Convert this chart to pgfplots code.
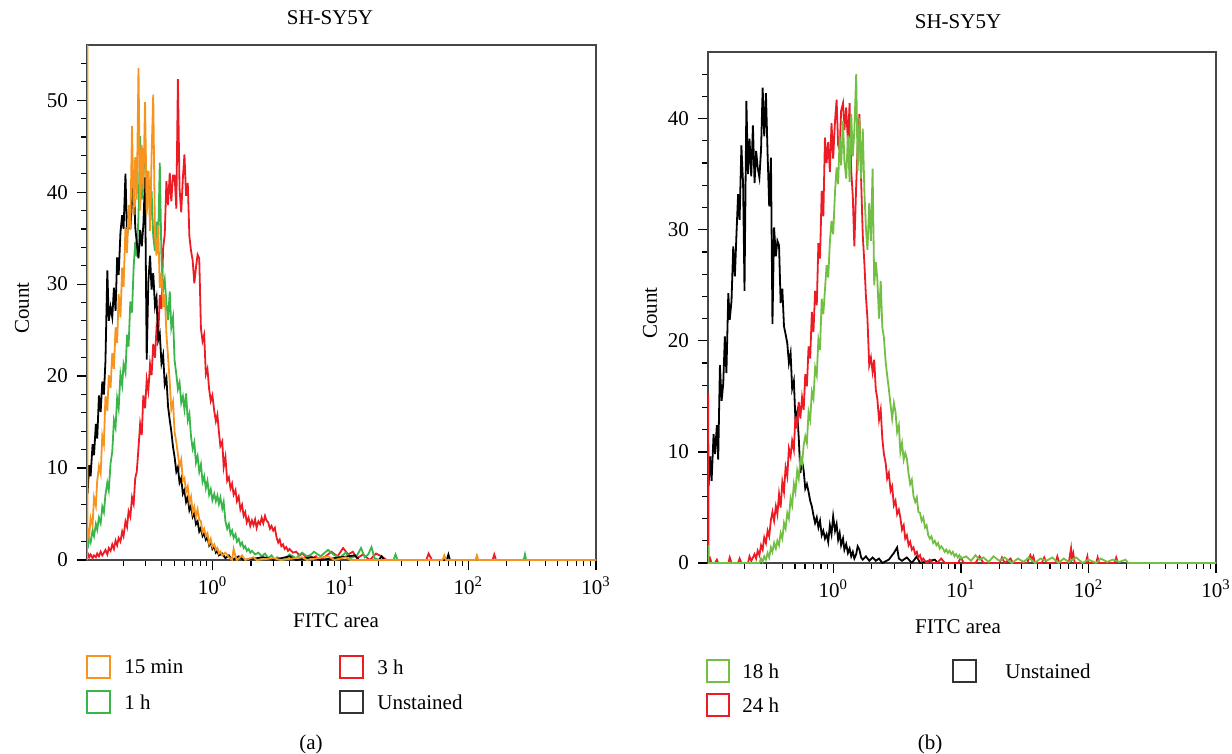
\documentclass[border=0pt]{standalone}
\usepackage{fontspec}
\setmainfont{Liberation Serif}
\usepackage{pgfplots}
\pgfplotsset{compat=1.18}

\definecolor{cOrange}{RGB}{247,148,30}
\definecolor{cGreen}{RGB}{57,181,74}
\definecolor{cGreenB}{RGB}{114,191,68}
\definecolor{cRed}{RGB}{237,28,36}
\definecolor{cFrame}{RGB}{70,70,70}

\begin{document}
\begin{tikzpicture}[font=\fontsize{10.5}{12}\selectfont]
\useasboundingbox (0,0) rectangle (616pt,-377pt);

% ---------------- panel (a) ----------------
\begin{axis}[
  at={(43.5pt,-280pt)}, anchor=south west,
  scale only axis, width=254.5pt, height=257.5pt,
  xmode=log, xmin=0.104, xmax=1000,
  ymin=0, ymax=56,
  xtick={1,10,100,1000},
  xticklabels={10\textsuperscript{0},10\textsuperscript{1},10\textsuperscript{2},10\textsuperscript{3}},
  minor xtick={0.2,0.3,0.4,0.5,0.6,0.7,0.8,0.9,2,3,4,5,6,7,8,9,20,30,40,50,60,70,80,90,200,300,400,500,600,700,800,900},
  ytick={0,10,20,30,40,50},
  minor ytick={2,4,6,8,12,14,16,18,22,24,26,28,32,34,36,38,42,44,46,48,52,54},
  tick align=outside, tick pos=left,
  major tick length=5pt, minor tick length=3pt,
  axis line style={cFrame, line width=0.6pt},
  tick style={black, line width=0.6pt},
  /pgf/number format/assume math mode=true,
  yticklabel style={xshift=-1pt},
  every axis plot/.append style={line width=0.9pt},
]

% 3 h
\addplot[cRed] table {
x y
0.105 0.8
0.108 0.3
0.111 0.6
0.115 0.2
0.118 0.5
0.122 0.3
0.125 0.7
0.129 0.4
0.133 0.9
0.137 0.5
0.141 0.8
0.145 1.1
0.150 0.6
0.154 1.3
0.159 1.0
0.164 1.7
0.169 1.2
0.174 2.1
0.179 1.6
0.184 2.4
0.190 2.0
0.196 3.1
0.201 2.6
0.208 4.2
0.214 3.6
0.220 5.3
0.227 4.7
0.234 6.8
0.241 6.1
0.248 8.9
0.255 9.6
0.263 12.2
0.271 14.8
0.279 13.6
0.287 17.9
0.296 16.5
0.305 19.6
0.314 18.4
0.324 21.3
0.333 20.1
0.343 23.5
0.354 22.0
0.364 25.2
0.375 24.1
0.386 28.8
0.398 27.3
0.410 33.9
0.422 35.4
0.435 41.2
0.448 38.6
0.462 42.1
0.475 39.0
0.490 41.8
0.504 41.8
0.520 38.2
0.535 52.3
0.551 40.4
0.568 37.8
0.585 41.5
0.602 44.1
0.620 39.6
0.639 41.0
0.658 35.2
0.678 33.6
0.698 32.6
0.719 30.1
0.741 31.8
0.763 33.2
0.786 32.8
0.810 25.2
0.834 23.8
0.859 24.5
0.885 20.2
0.911 20.8
0.939 18.6
0.967 17.3
0.996 17.9
1.03 16.2
1.06 15.1
1.09 15.8
1.12 13.9
1.15 12.4
1.19 12.9
1.22 10.1
1.26 11.2
1.30 8.6
1.34 9.0
1.38 7.8
1.42 8.3
1.46 7.1
1.51 7.6
1.55 6.4
1.60 6.9
1.65 5.5
1.70 6.0
1.75 4.8
1.80 5.2
1.85 4.1
1.91 4.6
1.97 3.7
2.03 4.3
2.09 3.8
2.15 4.4
2.21 3.5
2.28 4.2
2.35 3.9
2.42 4.6
2.49 4.0
2.57 4.8
2.64 4.3
2.72 4.1
2.81 3.4
2.89 3.7
2.98 3.2
3.07 3.5
3.16 2.5
3.26 1.9
3.35 2.2
3.45 1.5
3.56 1.7
3.66 1.2
3.77 1.4
3.89 1.0
4.00 1.2
4.25 0.8
4.51 0.9
4.78 0.5
5.07 0.7
5.38 0.3
5.71 0.5
6.06 0.2
6.43 0.4
6.82 0
7.5 0.3
8.5 0.9
9.5 0.4
10.5 1.3
11.5 0.6
12.5 0.9
13.5 0.2
15 0.6
17 0
19 0.7
21 0.4
23 0
47 0
49 0.7
52 0
155 0
160 0.6
165 0
};

% 1 h
\addplot[cGreen] table {
x y
0.105 1.2
0.108 2.4
0.111 1.9
0.115 3.2
0.118 2.6
0.122 3.9
0.125 3.3
0.129 4.6
0.133 4.0
0.137 5.8
0.141 5.2
0.145 7.1
0.150 8.4
0.154 7.6
0.159 10.5
0.164 11.8
0.169 15.2
0.174 14.4
0.179 17.6
0.184 16.5
0.190 20.2
0.196 19.0
0.201 21.3
0.208 20.4
0.214 24.5
0.220 23.2
0.227 28.1
0.234 26.9
0.241 31.8
0.248 34.6
0.255 33.0
0.263 37.4
0.271 46.1
0.279 39.2
0.287 41.5
0.296 45.0
0.305 40.8
0.314 42.3
0.324 36.9
0.333 40.1
0.343 35.2
0.354 33.6
0.364 36.8
0.375 34.5
0.386 43.2
0.398 32.8
0.410 29.4
0.422 30.5
0.435 27.9
0.448 26.1
0.462 29.2
0.475 25.3
0.490 26.4
0.504 21.7
0.520 20.2
0.535 18.6
0.551 19.3
0.568 17.1
0.585 17.8
0.602 16.4
0.620 18.1
0.639 15.2
0.658 15.9
0.678 13.4
0.698 12.1
0.719 12.8
0.741 10.6
0.763 11.3
0.786 9.6
0.810 10.4
0.834 8.5
0.859 9.1
0.885 7.8
0.911 8.6
0.939 7.1
0.967 7.7
0.996 6.5
1.03 7.2
1.06 6.4
1.09 7.0
1.12 6.1
1.15 6.8
1.19 5.6
1.22 6.3
1.26 4.2
1.30 3.4
1.34 3.9
1.38 2.8
1.42 3.2
1.46 2.4
1.51 2.8
1.55 2.0
1.60 2.3
1.65 1.6
1.70 1.9
1.75 1.3
1.80 1.5
1.85 1.0
1.91 1.2
1.97 0.8
2.03 1.0
2.15 0.6
2.28 0.8
2.42 0.4
2.57 0.7
2.72 0.2
2.89 0.5
3.07 0
3.2 0.3
3.6 0
4.0 0.6
4.5 0.2
5.0 0.8
5.6 0.3
6.2 0.9
7.0 0.4
8.0 1.1
9.0 0.5
10 0.3
11 0.8
12 0.2
13.5 0.5
14.5 1.3
15.5 0.3
16.5 0.6
17.5 1.4
18.5 0.2
20 0
26 0
27 0.6
28 0
272 0
278 0.6
284 0
};

% Unstained
\addplot[black] table {
x y
0.104 9.5
0.105 7.2
0.108 10.3
0.111 9.1
0.115 12.6
0.118 11.4
0.122 14.8
0.125 13.2
0.129 17.9
0.133 16.1
0.137 19.4
0.141 18.0
0.145 21.6
0.150 31.5
0.154 26.0
0.159 27.5
0.164 26.4
0.169 29.6
0.174 27.1
0.179 32.9
0.184 31.0
0.190 35.6
0.196 37.5
0.201 36.0
0.208 42.0
0.214 35.1
0.220 37.4
0.227 36.0
0.234 38.9
0.241 41.7
0.248 36.2
0.255 34.5
0.263 32.8
0.271 35.9
0.279 34.1
0.287 36.4
0.296 41.6
0.305 21.8
0.314 30.2
0.324 33.1
0.333 29.4
0.343 31.2
0.354 27.6
0.364 28.5
0.375 23.9
0.386 24.6
0.398 21.4
0.410 22.3
0.422 19.1
0.435 19.8
0.448 16.7
0.462 15.2
0.475 14.0
0.490 12.3
0.504 11.2
0.520 9.6
0.535 10.1
0.551 8.4
0.568 8.9
0.585 7.2
0.602 7.6
0.620 6.3
0.639 6.8
0.658 5.4
0.678 5.9
0.698 4.7
0.719 5.1
0.741 3.9
0.763 4.2
0.786 3.1
0.810 3.5
0.834 2.6
0.859 2.9
0.885 2.2
0.911 2.5
0.939 1.6
0.967 2.0
0.996 1.2
1.03 1.5
1.06 0.8
1.09 1.0
1.12 0.5
1.19 0.7
1.26 0.2
1.34 0.5
1.42 0
1.60 0.4
1.75 0
2.5 0.3
3.0 0
4.0 0.4
4.5 0
6.0 0.3
7.0 0
13 0.5
14 0
20 0
21 0.4
22 0
68 0
70 0.6
72 0
};

% 15 min
\addplot[cOrange] table {
x y
0.104 0
0.1045 120
0.105 3.5
0.108 2.5
0.111 4.6
0.115 3.8
0.118 6.8
0.122 5.9
0.125 8.6
0.129 10.2
0.133 9.4
0.137 13.5
0.141 12.6
0.145 17.8
0.150 16.2
0.154 20.1
0.159 18.7
0.164 22.5
0.169 20.8
0.174 25.3
0.179 23.6
0.184 28.9
0.190 26.4
0.196 31.8
0.201 29.7
0.208 36.2
0.214 33.4
0.220 38.6
0.227 35.9
0.234 47.2
0.241 37.5
0.248 43.8
0.255 39.2
0.263 53.5
0.271 38.0
0.279 45.1
0.287 40.3
0.296 49.8
0.305 37.6
0.314 42.3
0.324 35.8
0.333 44.0
0.343 50.6
0.354 35.2
0.364 33.1
0.375 36.4
0.386 29.6
0.398 31.2
0.410 27.5
0.422 28.9
0.435 24.6
0.448 22.1
0.462 19.3
0.475 16.4
0.490 17.2
0.504 13.9
0.520 12.8
0.535 11.5
0.551 10.2
0.568 10.9
0.585 8.6
0.602 8.9
0.620 7.4
0.639 8.0
0.658 6.3
0.678 6.9
0.698 5.2
0.719 5.8
0.741 4.7
0.763 5.5
0.786 4.4
0.810 4.2
0.834 3.0
0.859 3.4
0.885 2.6
0.911 2.9
0.939 1.8
0.967 2.3
0.996 1.4
1.03 1.7
1.06 1.1
1.09 1.3
1.12 0.7
1.15 0.9
1.19 0.5
1.26 0.8
1.34 0.3
1.42 0
1.46 1.2
1.51 0.4
1.55 0
1.70 0.5
1.80 0
2.09 0.3
2.21 0
3.0 0.2
3.4 0
5.0 0.3
5.5 0
8.0 0.4
9.0 0
11 0.3
12 0
63 0
65 0.5
67 0
114 0
117 0.5
120 0
1000 0
};
\end{axis}

% ---------------- panel (b) ----------------
\begin{axis}[
  at={(354pt,-281.5pt)}, anchor=south west,
  scale only axis, width=254pt, height=255.5pt,
  xmode=log, xmin=0.104, xmax=1000,
  ymin=0, ymax=46,
  xtick={1,10,100,1000},
  xticklabels={10\textsuperscript{0},10\textsuperscript{1},10\textsuperscript{2},10\textsuperscript{3}},
  minor xtick={0.2,0.3,0.4,0.5,0.6,0.7,0.8,0.9,2,3,4,5,6,7,8,9,20,30,40,50,60,70,80,90,200,300,400,500,600,700,800,900},
  ytick={0,10,20,30,40},
  minor ytick={2,4,6,8,12,14,16,18,22,24,26,28,32,34,36,38,42,44},
  tick align=outside, tick pos=left,
  major tick length=5pt, minor tick length=3pt,
  axis line style={cFrame, line width=0.6pt},
  tick style={black, line width=0.6pt},
  /pgf/number format/assume math mode=true,
  yticklabel style={xshift=-1pt},
  every axis plot/.append style={line width=0.9pt},
]

% Unstained
\addplot[black] table {
x y
0.104 9.8
0.105 6.9
0.108 9.6
0.111 7.4
0.115 11.6
0.118 9.8
0.122 12.4
0.125 9.3
0.129 17.8
0.133 14.6
0.137 16.2
0.141 20.4
0.145 17.1
0.150 24.3
0.154 21.9
0.159 23.6
0.164 28.5
0.169 25.8
0.174 29.7
0.179 33.2
0.184 30.9
0.190 37.6
0.196 34.1
0.201 24.5
0.208 41.6
0.214 35.0
0.220 38.2
0.227 34.8
0.234 39.4
0.241 34.2
0.248 37.1
0.255 35.6
0.263 34.7
0.271 37.2
0.279 42.8
0.287 38.4
0.296 42.3
0.305 36.8
0.314 32.1
0.324 36.5
0.333 21.5
0.343 30.2
0.354 27.6
0.364 29.0
0.375 28.6
0.386 23.4
0.398 24.7
0.410 21.3
0.422 20.6
0.435 19.8
0.448 18.0
0.462 18.9
0.475 15.7
0.490 16.4
0.504 12.9
0.520 13.6
0.535 11.3
0.551 8.1
0.568 9.2
0.585 8.3
0.602 6.7
0.620 7.1
0.639 6.4
0.658 5.6
0.678 5.1
0.698 4.3
0.719 3.6
0.741 4.1
0.763 3.2
0.786 3.8
0.810 2.5
0.834 2.9
0.859 2.2
0.885 2.6
0.911 1.9
0.939 3.4
0.967 2.6
0.996 4.2
1.03 2.9
1.06 3.5
1.09 2.1
1.12 2.7
1.15 1.6
1.19 2.2
1.22 1.2
1.26 1.7
1.30 0.9
1.34 1.3
1.38 0.6
1.42 1.0
1.46 0.4
1.51 0.8
1.55 1.5
1.60 1.2
1.65 0.5
1.70 0.3
1.80 0.6
1.91 0.2
2.03 0.5
2.15 0.2
2.28 0.4
2.42 0
2.72 0.3
2.98 0.9
3.16 1.4
3.26 0.4
3.45 0.2
3.77 0.5
4.12 0
4.51 0.6
4.78 0
6.24 0.3
6.62 0
};

% 24 h
\addplot[cRed] table {
x y
0.104 0
0.1045 15.2
0.105 0
0.108 0.4
0.111 0
0.118 0
0.122 0.3
0.125 0
0.150 0
0.154 0.5
0.159 0
0.179 0
0.184 0.4
0.190 0
0.214 0
0.220 0.6
0.227 0.2
0.234 0.5
0.241 0.8
0.248 0.4
0.255 1.1
0.263 0.7
0.271 1.6
0.279 1.2
0.287 2.3
0.296 1.8
0.305 2.9
0.314 2.4
0.324 3.9
0.333 4.6
0.343 3.8
0.354 5.1
0.364 4.4
0.375 6.2
0.386 5.0
0.398 7.3
0.410 6.4
0.422 8.6
0.435 7.8
0.448 10.3
0.462 9.6
0.475 11.0
0.490 10.2
0.504 13.2
0.520 12.1
0.535 14.5
0.551 13.0
0.568 14.9
0.585 13.8
0.602 17.0
0.620 15.9
0.639 19.5
0.658 18.4
0.678 22.6
0.698 20.8
0.719 24.5
0.741 23.2
0.763 28.8
0.786 27.4
0.810 33.5
0.834 31.2
0.859 38.3
0.885 36.0
0.911 37.9
0.939 35.2
0.967 39.6
0.996 36.4
1.03 39.8
1.06 41.7
1.09 37.6
1.12 37.2
1.15 40.7
1.19 41.4
1.22 39.0
1.26 41.0
1.30 37.8
1.34 41.4
1.38 35.3
1.42 33.0
1.46 28.5
1.51 34.0
1.55 37.5
1.60 40.4
1.65 34.5
1.70 29.5
1.75 27.0
1.80 24.0
1.85 22.0
1.91 17.8
1.97 18.5
2.03 17.2
2.09 18.3
2.15 15.6
2.21 14.8
2.28 12.9
2.35 13.8
2.42 11.2
2.49 9.8
2.57 9.0
2.64 7.6
2.72 8.1
2.81 6.5
2.89 6.9
2.98 5.2
3.07 5.6
3.16 4.4
3.26 4.8
3.35 4.1
3.45 3.0
3.56 3.4
3.66 2.2
3.77 2.5
3.89 1.6
4.00 1.9
4.12 1.2
4.25 1.4
4.38 0.8
4.51 1.0
4.64 0.5
4.78 0.7
4.92 0.2
5.07 0.4
5.38 0
5.7 0.3
6.0 0
6.5 0
7 0.4
7.5 0
9.5 0
10 0.5
10.5 0
13 0
14 0.6
15 0
20 0
21 0.5
22 0
24.5 0.4
25.5 0
33 0
35 0.7
36 0.3
37 0.6
38 0
43 0
45 0.5
47 0
55 0
57 0.6
59 0
70 0
73 1.3
74 0.4
76 0.9
78 0
95 0
98 0.6
100 0
115 0
118 0.5
121 0
160 0
165 0.5
170 0
};

% 18 h
\addplot[cGreenB] table {
x y
0.104 0
0.1045 1.6
0.105 0
0.263 0
0.271 0.4
0.279 0.1
0.287 0.6
0.296 0.3
0.305 0.9
0.314 0.5
0.324 1.4
0.333 1.0
0.343 1.8
0.354 1.3
0.364 2.0
0.375 1.6
0.386 2.7
0.398 2.2
0.410 3.6
0.422 3.1
0.435 4.5
0.448 4.0
0.462 5.8
0.475 5.2
0.490 7.1
0.504 6.4
0.520 8.3
0.535 7.6
0.551 9.4
0.568 8.9
0.585 10.6
0.602 11.4
0.620 10.8
0.639 13.6
0.658 12.9
0.678 15.4
0.698 14.8
0.719 17.6
0.741 16.9
0.763 20.1
0.786 19.2
0.810 23.8
0.834 22.4
0.859 24.6
0.885 26.8
0.911 25.7
0.939 28.9
0.967 30.8
0.996 29.6
1.03 33.4
1.06 35.6
1.09 34.1
1.12 38.4
1.15 35.8
1.19 39.8
1.22 36.2
1.26 34.6
1.30 38.5
1.34 34.3
1.38 40.4
1.42 36.6
1.46 38.9
1.51 44.0
1.55 35.3
1.60 40.1
1.65 34.6
1.70 39.1
1.75 33.5
1.80 30.1
1.85 28.2
1.91 32.4
1.97 29.0
2.03 35.5
2.09 25.0
2.15 27.1
2.21 25.6
2.28 22.0
2.35 25.4
2.42 21.2
2.49 20.3
2.57 18.1
2.64 16.9
2.72 15.7
2.81 14.2
2.89 13.0
2.98 14.4
3.07 13.6
3.16 11.8
3.26 12.4
3.35 10.0
3.45 10.8
3.56 9.3
3.66 9.9
3.77 9.4
3.89 8.0
4.00 7.1
4.12 7.5
4.25 6.0
4.38 5.5
4.51 5.9
4.64 4.6
4.78 4.5
4.92 3.8
5.07 4.1
5.23 3.2
5.38 3.4
5.54 2.5
5.71 2.2
5.88 2.4
6.06 1.8
6.24 2.0
6.43 1.6
6.62 1.8
6.82 1.3
7.02 1.5
7.23 1.3
7.45 1.0
7.67 1.2
7.90 0.9
8.14 1.1
8.39 0.8
8.64 1.0
8.90 0.6
9.16 0.8
9.44 0.5
9.72 0.7
10.0 0.4
11 0.6
12 0.2
13 0.7
14 0.3
15 0.5
16.5 0.1
18 0.6
20 0.2
22 0.5
25 0
28 0.4
31 0.1
34 0.5
38 0
42 0.4
47 0.2
52 0.5
58 0
64 0.4
70 0.1
80 0.5
90 0
100 0.3
115 0
125 0.4
140 0.1
155 0.3
175 0.1
195 0.3
205 0
1000 0
};
\end{axis}

% ---------------- titles, labels, legends ----------------
\node at (165pt,-9pt) {SH-SY5Y};
\node at (479pt,-11pt) {SH-SY5Y};
\node[rotate=90] at (11pt,-154pt) {Count};
\node[rotate=90] at (325pt,-156.5pt) {Count};
\node at (168pt,-310.5pt) {FITC area};
\node at (479pt,-313.5pt) {FITC area};
\node at (155.5pt,-372pt) {(a)};
\node at (465pt,-372pt) {(b)};

\draw[cOrange, line width=0.7pt] (43.5pt,-328pt) rectangle (55pt,-339pt);
\draw[cGreen, line width=0.7pt] (43.5pt,-345.5pt) rectangle (55pt,-356.5pt);
\draw[cRed, line width=0.7pt] (170pt,-328pt) rectangle (181.5pt,-339pt);
\draw[black!80, line width=0.7pt] (170pt,-345.5pt) rectangle (181.5pt,-356.5pt);
\draw[cGreenB, line width=0.7pt] (353.5pt,-330pt) rectangle (364.5pt,-341pt);
\draw[cRed, line width=0.7pt] (353.5pt,-347pt) rectangle (364.5pt,-358pt);
\draw[black!80, line width=0.7pt] (476.5pt,-330pt) rectangle (488pt,-341pt);

\node[anchor=west, inner sep=0pt] at (62pt,-333.5pt) {15 min};
\node[anchor=west, inner sep=0pt] at (62pt,-351pt) {1 h};
\node[anchor=west, inner sep=0pt] at (188.5pt,-333.5pt) {3 h};
\node[anchor=west, inner sep=0pt] at (188.5pt,-351pt) {Unstained};
\node[anchor=west, inner sep=0pt] at (371pt,-335.5pt) {18 h};
\node[anchor=west, inner sep=0pt] at (371pt,-352.5pt) {24 h};
\node[anchor=west, inner sep=0pt] at (502.5pt,-335.5pt) {Unstained};
\end{tikzpicture}
\end{document}
